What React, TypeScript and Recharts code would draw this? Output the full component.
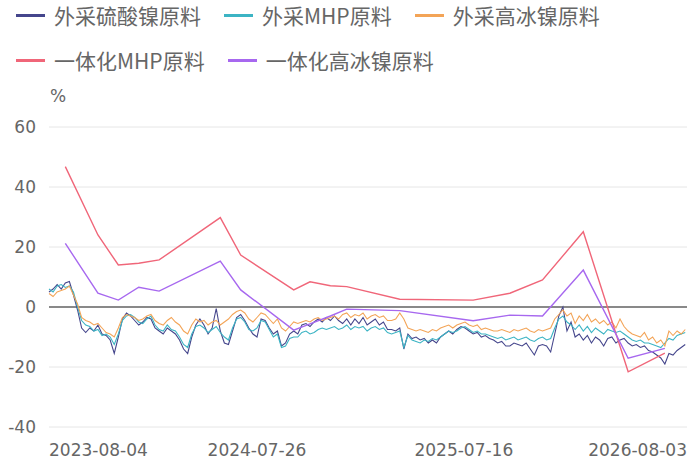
import React from 'react'
import { LineChart, Line, XAxis, YAxis, CartesianGrid, ReferenceLine } from 'recharts'

// weekly readings, first row is 2023-08-04
const sulfate = [
  5, 6, 7.5, 6, 8, 8.5, 4, -1, -7, -8.5,
  -7, -8, -6, -9, -9.5, -11, -15.5, -10, -4, -2,
  -3, -4.5, -6, -5, -3.5, -4, -7, -8, -9, -7,
  -8, -9, -11, -14, -15.5, -10, -6, -4, -6, -9,
  -7, -0.5, -8, -12, -12.5, -8, -3.5, -2.5, -4.5, -7,
  -9, -10, -4, -4.5, -7, -9, -8, -13, -12, -9,
  -8, -9, -6, -5.5, -6.5, -5, -4, -5, -3.5, -4.5,
  -3, -4.5, -5.5, -4, -6, -4, -5.5, -3.5, -6, -5,
  -4, -6, -5, -7.5, -7.5, -8, -7, -14, -9, -10.5,
  -10, -11, -10.5, -12, -11, -12, -10, -9, -8, -9,
  -7.5, -6.5, -7, -8, -9, -8.5, -10, -9.5, -10.5, -11,
  -12, -11.5, -13, -13, -12, -12.5, -13, -12, -14, -16,
  -13, -12.5, -13, -15, -9, -3, 0, -8, -5, -10,
  -9, -11, -9.5, -12, -10, -11, -13, -10.5, -10, -12,
  -11, -10.5, -12, -13, -12.5, -13.5, -13, -14.5, -15, -16,
  -17, -19, -15.5, -16, -14.5, -13.5, -12.5,
]

const mhpBought = [
  6, 5, 7, 7.5, 6.5, 7, 5, 0, -4.5, -6,
  -6.5, -8, -7.5, -9.5, -9, -10, -12.5, -9, -4.5, -3,
  -2.5, -3.5, -5, -5.5, -4, -3, -6, -7.5, -8, -6,
  -7.5, -8, -10, -12.5, -13.5, -9, -6.5, -6, -7, -8.5,
  -7.5, -6.5, -8.5, -10, -11, -7, -4, -3.5, -5, -7.5,
  -8, -7, -4.5, -5, -7.5, -10, -9, -13.5, -13, -10.5,
  -10, -10, -8.5, -8, -9, -8.5, -7.5, -7, -7.5, -7,
  -6.5, -7.5, -7, -6, -7.5, -6.5, -7, -6.5, -8, -7,
  -6.5, -7.5, -7, -8.5, -9, -8.5, -8, -13.5, -9.5, -11,
  -11.5, -12, -11, -11.5, -10.5, -11, -10, -9, -8, -8.5,
  -8, -7, -6.5, -7.5, -8.5, -8, -9, -9, -9.5, -10,
  -10.5, -10, -11, -10.5, -10, -11, -10.5, -10, -11, -11.5,
  -10.5, -10, -11, -10.5, -7, -4, -3, -5, -6, -7.5,
  -6, -8, -6.5, -8.5, -7, -8, -9, -7.5, -8, -8.5,
  -8, -9, -10, -11, -11.5, -11, -12, -12, -12.5, -13,
  -13.5, -12, -10.5, -11, -9.5, -9, -8.5,
]

const matteBought = [
  4.5, 3.5, 5, 5.5, 6, 7, 4, 1, -3.5, -4.5,
  -5, -6, -5.5, -7, -8.5, -9, -10, -7, -3.5, -2.5,
  -3, -3.5, -4.5, -4, -3, -2.5, -4.5, -5.5, -6, -4.5,
  -3.5, -5, -6, -8, -9, -6, -4, -5, -4.5, -6,
  -5, -4.5, -6, -5, -4, -2.5, -1.5, -1, -2, -4,
  -5, -3.5, -2, -2.5, -4, -5.5, -4, -7, -8, -6.5,
  -5, -5.5, -5, -4.5, -5, -4, -3.5, -4.5, -4, -3.5,
  -3, -4, -2.5, -2, -3.5, -2.5, -3, -2, -4, -3,
  -2.5, -3.5, -3, -4.5, -4.5, -4, -2, -4, -7, -7.5,
  -8, -7.5, -8, -8.5, -7.5, -8, -7, -6.5, -6, -7,
  -6, -5.5, -5, -6, -6.5, -6, -7.5, -7, -7.5, -8,
  -8, -7.5, -8, -8.5, -7.5, -8, -7.5, -7, -8, -8.5,
  -7.5, -8, -7.5, -7, -4, -2.5, -1, -3, -2, -5.5,
  -3, -4.5, -2.5, -5, -4, -5.5, -4.5, -6, -5, -7,
  -4, -6.5, -8, -9, -9.5, -10, -8.5, -11, -10, -12,
  -11, -13, -8, -9.5, -8, -9, -7.5,
]

// integrated producers are only reported on these weeks
const integWeeks = [4, 12, 17, 22, 27, 42, 47, 60, 64, 69, 73, 86, 104, 113, 121, 131, 142, 151]
const integMhp = [46.8, 24, 14, 14.6, 15.7, 29.8, 17.3, 5.7, 8.4, 7.1, 6.8, 2.6, 2.3, 4.6, 9, 25.1, -21.6, -15.4]
const integMatte = [21.2, 4.6, 2.3, 6.6, 5.3, 15.3, 5.7, -7.7, -5.6, -3, -0.7, -1.2, -4.6, -2.7, -3, 12.3, -17.1, -13.8]

const tickLabels = ['2023-08-04', '2024-07-26', '2025-07-16', '2026-08-03']
const yTicks = [-40, -20, 0, 20, 40, 60]

const WEEK = 7 * 86400000
const xTicks = tickLabels.map((d) => (Date.parse(d) - Date.parse(tickLabels[0])) / WEEK)

type Row = {
  i: number
  sulfate: number
  mhp: number
  matte: number
  integMhp: number | null
  integMatte: number | null
}

const rows: Row[] = sulfate.map((v, i) => ({
  i,
  sulfate: v,
  mhp: mhpBought[i],
  matte: matteBought[i],
  integMhp: null,
  integMatte: null,
}))
integWeeks.forEach((w, j) => {
  rows[w].integMhp = integMhp[j]
  rows[w].integMatte = integMatte[j]
})

const series = [
  { key: 'sulfate', name: '外采硫酸镍原料', color: '#45468c', width: 1.1 },
  { key: 'mhp', name: '外采MHP原料', color: '#3cb4c4', width: 1.1 },
  { key: 'matte', name: '外采高冰镍原料', color: '#f3a457', width: 1.1 },
  { key: 'integMhp', name: '一体化MHP原料', color: '#f06679', width: 1.4 },
  { key: 'integMatte', name: '一体化高冰镍原料', color: '#a768ef', width: 1.4 },
]

const textColor = '#666'
const tickFont = 'DejaVu Sans, sans-serif'

function DateTick(props: any) {
  const { x, y, index } = props
  const last = tickLabels.length - 1
  const anchor = index === 0 ? 'start' : index === last ? 'end' : 'middle'
  return (
    <text x={x} y={y} dy={29} textAnchor={anchor} fill={textColor} fontSize={17} fontFamily={tickFont}>
      {tickLabels[index]}
    </text>
  )
}

function ValueTick(props: any) {
  const { x, y, payload } = props
  return (
    <text x={x} y={y} textAnchor="end" dominantBaseline="central" fill={textColor} fontSize={17} fontFamily={tickFont}>
      {payload.value}
    </text>
  )
}

export default function App() {
  return (
    <div style={{ position: 'absolute', left: 0, top: 0, width: 700, height: 468, background: '#fff' }}>
      <div
        style={{
          position: 'absolute',
          left: 16,
          top: 3,
          width: 640,
          display: 'flex',
          flexWrap: 'wrap',
          rowGap: 21,
          fontFamily: '"Noto Sans CJK SC", sans-serif',
          fontSize: 21,
          color: textColor,
        }}
      >
        {series.map((s) => (
          <div key={s.key} style={{ display: 'flex', alignItems: 'center', height: 24, marginRight: 23 }}>
            <span style={{ display: 'inline-block', width: 29, height: 3, background: s.color, marginRight: 9 }} />
            <span style={{ whiteSpace: 'nowrap', lineHeight: '24px' }}>{s.name}</span>
          </div>
        ))}
      </div>
      <div
        style={{
          position: 'absolute',
          left: 50,
          top: 86,
          fontFamily: tickFont,
          fontSize: 17,
          color: textColor,
        }}
      >
        %
      </div>
      <LineChart width={700} height={468} data={rows} margin={{ top: 127, right: 13, bottom: 0, left: 0 }}>
        <CartesianGrid vertical={false} stroke="#e6e6e6" />
        <XAxis
          dataKey="i"
          type="number"
          domain={[0, xTicks[xTicks.length - 1]]}
          ticks={xTicks}
          interval={0}
          height={41}
          axisLine={false}
          tickLine={false}
          tickSize={0}
          tickMargin={0}
          tick={<DateTick />}
        />
        <YAxis
          type="number"
          domain={[-40, 60]}
          ticks={yTicks}
          interval={0}
          width={49}
          axisLine={false}
          tickLine={false}
          tickSize={0}
          tickMargin={13}
          tick={<ValueTick />}
        />
        <ReferenceLine y={0} stroke="#666" strokeWidth={1.5} />
        {series.map((s) => (
          <Line
            key={s.key}
            dataKey={s.key}
            name={s.name}
            type="linear"
            stroke={s.color}
            strokeWidth={s.width}
            dot={false}
            activeDot={false}
            connectNulls
            isAnimationActive={false}
          />
        ))}
      </LineChart>
    </div>
  )
}
